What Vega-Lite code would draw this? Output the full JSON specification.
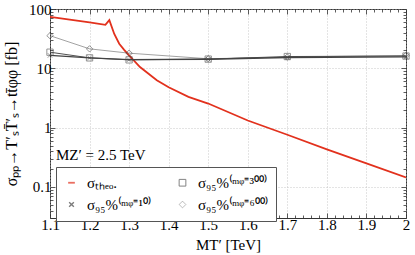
{
  "$schema": "https://vega.github.io/schema/vega-lite/v6.json",
  "width": 415,
  "height": 255,
  "autosize": {"type": "fit", "contains": "padding"},
  "padding": {"left": 3, "top": 2, "right": 4, "bottom": 3},
  "config": {
    "font": "Liberation Serif",
    "view": {"stroke": "#333", "strokeWidth": 1},
    "axis": {
      "labelFont": "Liberation Serif", "labelFontSize": 15, "labelColor": "#000",
      "titleFont": "Liberation Serif", "titleFontSize": 15, "titleFontWeight": "normal", "titleColor": "#000",
      "domain": false, "tickColor": "#333", "tickWidth": 0.8,
      "gridColor": "#bbb", "gridDash": [1, 2], "gridWidth": 0.8
    },
    "legend": {
      "strokeColor": "#555", "fillColor": "white", "padding": 8,
      "columnPadding": 24, "rowPadding": 6,
      "labelFont": "Liberation Serif", "labelFontSize": 15, "labelColor": "#000",
      "labelOffset": 8,
      "symbolStrokeWidth": 1.2, "symbolSize": 45
    }
  },
  "datasets": {
    "curves": [
      {"series": "σₜₕₑₒ.", "x": 1.1, "y": 73.6},
      {"series": "σₜₕₑₒ.", "x": 1.15, "y": 66},
      {"series": "σₜₕₑₒ.", "x": 1.2, "y": 59.5},
      {"series": "σₜₕₑₒ.", "x": 1.24, "y": 54},
      {"series": "σₜₕₑₒ.", "x": 1.25, "y": 65},
      {"series": "σₜₕₑₒ.", "x": 1.2625, "y": 38},
      {"series": "σₜₕₑₒ.", "x": 1.275, "y": 26},
      {"series": "σₜₕₑₒ.", "x": 1.2875, "y": 20.5},
      {"series": "σₜₕₑₒ.", "x": 1.3, "y": 16.5},
      {"series": "σₜₕₑₒ.", "x": 1.3275, "y": 10.5},
      {"series": "σₜₕₑₒ.", "x": 1.37, "y": 6.3},
      {"series": "σₜₕₑₒ.", "x": 1.4, "y": 4.8},
      {"series": "σₜₕₑₒ.", "x": 1.45, "y": 3.3},
      {"series": "σₜₕₑₒ.", "x": 1.5, "y": 2.55},
      {"series": "σₜₕₑₒ.", "x": 1.6, "y": 1.32},
      {"series": "σₜₕₑₒ.", "x": 1.7, "y": 0.76},
      {"series": "σₜₕₑₒ.", "x": 1.8, "y": 0.43},
      {"series": "σₜₕₑₒ.", "x": 1.9, "y": 0.25},
      {"series": "σₜₕₑₒ.", "x": 2.0, "y": 0.145},
      {"series": "σ₉₅%⁽ᵐᵠ⁼³⁰⁰⁾", "x": 1.1, "y": 18.7},
      {"series": "σ₉₅%⁽ᵐᵠ⁼³⁰⁰⁾", "x": 1.2, "y": 15},
      {"series": "σ₉₅%⁽ᵐᵠ⁼³⁰⁰⁾", "x": 1.3, "y": 13.9},
      {"series": "σ₉₅%⁽ᵐᵠ⁼³⁰⁰⁾", "x": 1.5, "y": 14.3},
      {"series": "σ₉₅%⁽ᵐᵠ⁼³⁰⁰⁾", "x": 1.7, "y": 15.8},
      {"series": "σ₉₅%⁽ᵐᵠ⁼³⁰⁰⁾", "x": 2.0, "y": 16.1},
      {"series": "σ₉₅%⁽ᵐᵠ⁼¹⁰⁾", "x": 1.1, "y": 16.5},
      {"series": "σ₉₅%⁽ᵐᵠ⁼¹⁰⁾", "x": 1.2, "y": 15},
      {"series": "σ₉₅%⁽ᵐᵠ⁼¹⁰⁾", "x": 1.3, "y": 14},
      {"series": "σ₉₅%⁽ᵐᵠ⁼¹⁰⁾", "x": 1.5, "y": 14.2},
      {"series": "σ₉₅%⁽ᵐᵠ⁼¹⁰⁾", "x": 1.7, "y": 15.2},
      {"series": "σ₉₅%⁽ᵐᵠ⁼¹⁰⁾", "x": 2.0, "y": 15.6},
      {"series": "σ₉₅%⁽ᵐᵠ⁼⁶⁰⁰⁾", "x": 1.1, "y": 35.5},
      {"series": "σ₉₅%⁽ᵐᵠ⁼⁶⁰⁰⁾", "x": 1.2, "y": 21.3},
      {"series": "σ₉₅%⁽ᵐᵠ⁼⁶⁰⁰⁾", "x": 1.3, "y": 18},
      {"series": "σ₉₅%⁽ᵐᵠ⁼⁶⁰⁰⁾", "x": 1.5, "y": 14.5},
      {"series": "σ₉₅%⁽ᵐᵠ⁼⁶⁰⁰⁾", "x": 1.7, "y": 15.5},
      {"series": "σ₉₅%⁽ᵐᵠ⁼⁶⁰⁰⁾", "x": 2.0, "y": 16.5}
    ],
    "note": [{"x": 1.115, "y": 0.34, "label": "MZ′ = 2.5 TeV"}]
  },
  "resolve": {"axis": {"x": "independent", "y": "independent"}},
  "layer": [
    {
      "data": {"name": "curves"},
      "mark": {"type": "line", "clip": true},
      "encoding": {
        "x": {"field": "x", "type": "quantitative",
          "scale": {"domain": [1.1, 2.0], "nice": false, "zero": false},
          "axis": {
            "orient": "bottom", "title": "MT′ [TeV]", "grid": true, "labelPadding": 4, "labelFlush": false, "labelOverlap": false, "titlePadding": 3,
            "values": [1.1,1.12,1.14,1.16,1.18,1.2,1.22,1.24,1.26,1.28,1.3,1.32,1.34,1.36,1.38,1.4,1.42,1.44,1.46,1.48,1.5,1.52,1.54,1.56,1.58,1.6,1.62,1.64,1.66,1.68,1.7,1.72,1.74,1.76,1.78,1.8,1.82,1.84,1.86,1.88,1.9,1.92,1.94,1.96,1.98,2.0],
            "labelExpr": "abs(datum.value*10-round(datum.value*10))<1e-6 ? format(datum.value,'~g') : ''",
            "tickSize": {"condition": {"test": "abs(datum.value*10-round(datum.value*10))<1e-6", "value": -5}, "value": -3},
            "gridOpacity": {"condition": {"test": "abs(datum.value*10-round(datum.value*10))<1e-6", "value": 1}, "value": 0}
          }},
        "y": {"field": "y", "type": "quantitative",
          "scale": {"type": "log", "domain": [0.03, 100], "nice": false},
          "axis": {
            "orient": "left", "title": "σₚₚ→T′ₛT̄′ₛ→tt̄φφ [fb]", "titleFontSize": 16, "grid": true, "labelPadding": 4, "labelOverlap": false, "titlePadding": 9,
            "values": [0.03,0.04,0.05,0.06,0.07,0.08,0.09,0.1,0.2,0.3,0.4,0.5,0.6,0.7,0.8,0.9,1,2,3,4,5,6,7,8,9,10,20,30,40,50,60,70,80,90,100],
            "labelExpr": "abs(log(datum.value)/LN10-round(log(datum.value)/LN10))<1e-6 ? format(datum.value,'~g') : ''",
            "tickSize": {"condition": {"test": "abs(log(datum.value)/LN10-round(log(datum.value)/LN10))<1e-6", "value": -5}, "value": -3},
            "gridOpacity": {"condition": {"test": "abs(log(datum.value)/LN10-round(log(datum.value)/LN10))<1e-6", "value": 1}, "value": 0}
          }},
        "color": {"field": "series", "type": "nominal",
          "scale": {"domain": ["σₜₕₑₒ.", "σ₉₅%⁽ᵐᵠ⁼¹⁰⁾", "σ₉₅%⁽ᵐᵠ⁼³⁰⁰⁾", "σ₉₅%⁽ᵐᵠ⁼⁶⁰⁰⁾"], "range": ["#e2311d", "#444", "#444", "#444"]},
          "legend": {"orient": "none", "legendX": 6, "legendY": 158, "columns": 2, "title": null}},
        "strokeWidth": {"field": "series", "type": "nominal",
          "scale": {"domain": ["σₜₕₑₒ.", "σ₉₅%⁽ᵐᵠ⁼¹⁰⁾", "σ₉₅%⁽ᵐᵠ⁼³⁰⁰⁾", "σ₉₅%⁽ᵐᵠ⁼⁶⁰⁰⁾"], "range": [1.8, 0.5, 0.5, 0.5]},
          "legend": null}
      }
    },
    {
      "data": {"name": "curves"},
      "transform": [{"filter": "datum.series != 'σₜₕₑₒ.'"}],
      "mark": {"type": "point", "filled": false, "size": 40, "strokeWidth": 0.8},
      "encoding": {
        "x": {"field": "x", "type": "quantitative", "axis": {"orient": "top", "labels": false, "title": null, "grid": false,
            "values": [1.1,1.12,1.14,1.16,1.18,1.2,1.22,1.24,1.26,1.28,1.3,1.32,1.34,1.36,1.38,1.4,1.42,1.44,1.46,1.48,1.5,1.52,1.54,1.56,1.58,1.6,1.62,1.64,1.66,1.68,1.7,1.72,1.74,1.76,1.78,1.8,1.82,1.84,1.86,1.88,1.9,1.92,1.94,1.96,1.98,2.0],
            "tickSize": {"condition": {"test": "abs(datum.value*10-round(datum.value*10))<1e-6", "value": -5}, "value": -3}}},
        "y": {"field": "y", "type": "quantitative", "axis": {"orient": "right", "labels": false, "title": null, "grid": false,
            "values": [0.03,0.04,0.05,0.06,0.07,0.08,0.09,0.1,0.2,0.3,0.4,0.5,0.6,0.7,0.8,0.9,1,2,3,4,5,6,7,8,9,10,20,30,40,50,60,70,80,90,100],
            "tickSize": {"condition": {"test": "abs(log(datum.value)/LN10-round(log(datum.value)/LN10))<1e-6", "value": -5}, "value": -3}}},
        "color": {"field": "series", "type": "nominal"},
        "shape": {"field": "series", "type": "nominal",
          "scale": {"domain": ["σₜₕₑₒ.", "σ₉₅%⁽ᵐᵠ⁼¹⁰⁾", "σ₉₅%⁽ᵐᵠ⁼³⁰⁰⁾", "σ₉₅%⁽ᵐᵠ⁼⁶⁰⁰⁾"], "range": ["stroke", "M-0.7,-0.7L0.7,0.7M-0.7,0.7L0.7,-0.7", "square", "diamond"]},
          "legend": {"orient": "none", "legendX": 6, "legendY": 158, "columns": 2, "title": null}}
      }
    },
    {
      "data": {"name": "note"},
      "mark": {"type": "text", "align": "left", "baseline": "middle", "fontSize": 15, "font": "Liberation Serif"},
      "encoding": {
        "x": {"field": "x", "type": "quantitative", "axis": null},
        "y": {"field": "y", "type": "quantitative", "axis": null},
        "text": {"field": "label"}
      }
    }
  ]
}
